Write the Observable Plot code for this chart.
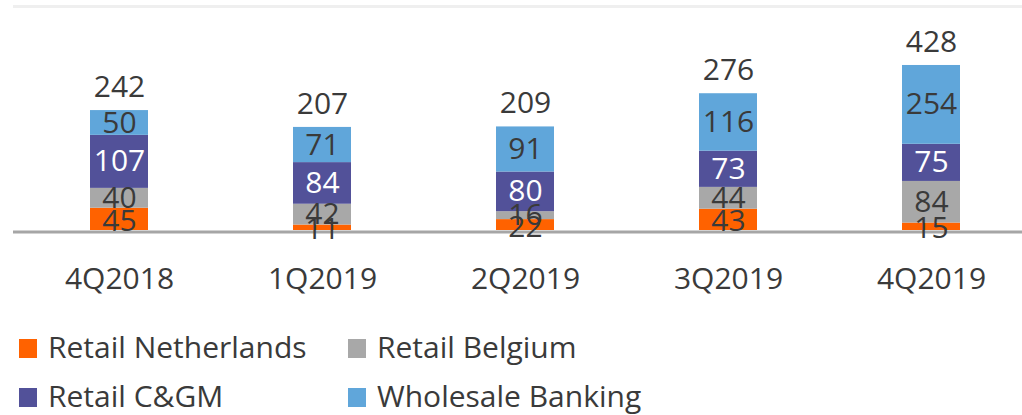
<!DOCTYPE html>
<html>
<head>
<meta charset="utf-8">
<script src="https://cdn.jsdelivr.net/npm/d3@7"></script>
<script src="https://cdn.jsdelivr.net/npm/@observablehq/plot@0.6"></script>
<style>
  html, body { margin: 0; padding: 0; background: #fff; }
  #chart { width: 1022px; height: 415px; overflow: hidden; font-family: "Open Sans", sans-serif; }
  svg { display: block; }
</style>
</head>
<body>
<div id="chart"></div>
<script>
// ---- data ----
const quarters = ["4Q2018", "1Q2019", "2Q2019", "3Q2019", "4Q2019"];
const seriesNames = ["Retail Netherlands", "Retail Belgium", "Retail C&GM", "Wholesale Banking"];
const retailNL = [45, 11, 22, 43, 15];
const retailBE = [40, 42, 16, 44, 84];
const retailCGM = [107, 84, 80, 73, 75];
const wholesaleLabel = [50, 71, 91, 116, 254];
// bar heights as drawn in the picture (4Q2019 wholesale bar is shorter than its label)
const wholesaleBar = [50, 71, 91, 116, 159];
const totals = [242, 207, 209, 276, 428];
const colors = ["#FF6200", "#A8A8A8", "#525199", "#60A6DA"];
const textColor = "#3a3a3a";

// ---- build stacked rows ----
const barVals = [retailNL, retailBE, retailCGM, wholesaleBar];
const labelVals = [retailNL, retailBE, retailCGM, wholesaleLabel];
const rows = [];
const tops = [];
quarters.forEach((q, qi) => {
  let acc = 0;
  seriesNames.forEach((s, si) => {
    const v = barVals[si][qi];
    rows.push({q, s, si, y1: acc, y2: acc + v, mid: acc + v / 2, label: String(labelVals[si][qi])});
    acc += v;
  });
  tops.push({q, top: acc, total: String(totals[qi])});
});

const font = "Open Sans";
const plot = Plot.plot({
  width: 1022,
  height: 300,
  marginTop: 7,
  marginBottom: 70,
  marginLeft: 13,
  marginRight: 0,
  style: {fontFamily: font, fontSize: "30px", color: textColor, background: "transparent"},
  x: {domain: quarters, range: [15.5, 1035], paddingInner: 0.713, paddingOuter: 0.3565, label: null},
  y: {domain: [0, 450], axis: null},
  color: {domain: seriesNames, range: colors},
  marks: [
    Plot.ruleY([450], {stroke: "#efefef", strokeWidth: 3, dy: -1}),
    Plot.ruleY([0], {stroke: "#A6A6A6", strokeWidth: 3, dy: 1.5}),
    Plot.barY(rows, {x: "q", y1: "y1", y2: "y2", fill: "s"}),
    Plot.text(rows.filter(d => d.si === 0), {
      x: "q", y: "mid", text: "label", fill: textColor, fontSize: 30, dy: 2
    }),
    Plot.text(rows.filter(d => d.si === 1 || d.si === 3), {
      x: "q", y: "mid", text: "label", fill: textColor, fontSize: 30
    }),
    Plot.text(rows.filter(d => d.si === 2), {
      x: "q", y: "mid", text: "label", fill: "#ffffff", fontSize: 30
    }),
    Plot.text(tops, {x: "q", y: "top", text: "total", fill: textColor, fontSize: 30, dy: -23.5}),
    Plot.axisX({tickSize: 0, tickPadding: 37, fontSize: 30, fill: textColor, label: null})
  ]
});
document.getElementById("chart").appendChild(plot);

// ---- legend (below the plot) ----
const legendPos = [[19, 33], [348, 33], [19, 82], [348, 82]];
const leg = d3.select("#chart").append("svg")
  .attr("width", 1022).attr("height", 115)
  .style("font-family", font);
seriesNames.forEach((name, si) => {
  const [lx, ly] = legendPos[si];
  leg.append("rect").attr("x", lx).attr("y", ly + 6).attr("width", 18).attr("height", 19).attr("fill", colors[si]);
  leg.append("text").attr("x", lx + 29).attr("y", ly + 25)
    .attr("font-size", 30).attr("fill", textColor).text(name);
});
</script>
</body>
</html>
